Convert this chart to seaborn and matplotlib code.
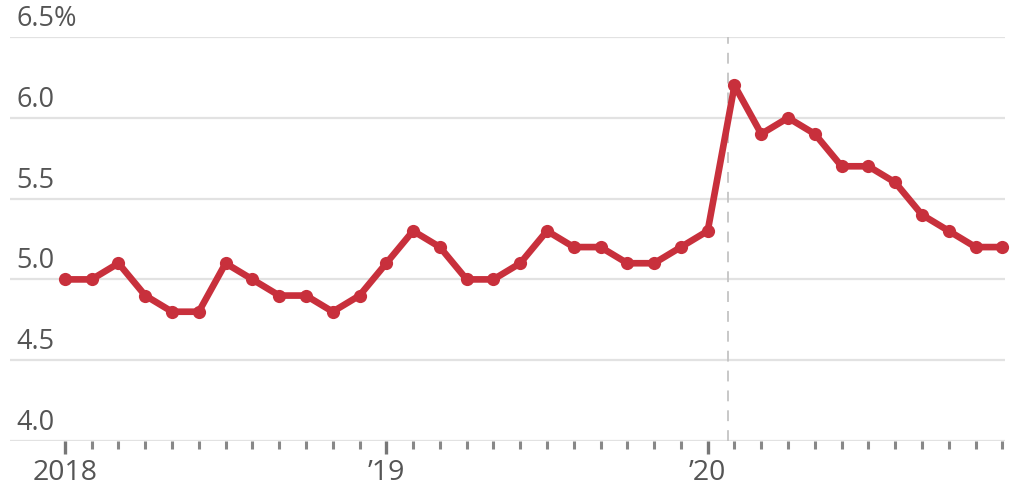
import numpy as np
import pandas as pd
import matplotlib
matplotlib.use("Agg")
import matplotlib.pyplot as plt
import seaborn as sns

# Monthly rate, Jan 2018 - Dec 2020
months = np.arange(36)
rate = [5.0, 5.0, 5.1, 4.9, 4.8, 4.8, 5.1, 5.0, 4.9, 4.9, 4.8, 4.9,
        5.1, 5.3, 5.2, 5.0, 5.0, 5.1, 5.3, 5.2, 5.2, 5.1, 5.1, 5.2,
        5.3, 6.2, 5.9, 6.0, 5.9, 5.7, 5.7, 5.6, 5.4, 5.3, 5.2, 5.2]
year_ticks = [0, 12, 24]
year_labels = ["2018", "\u201919", "\u201920"]
y_ticks = [4.0, 4.5, 5.0, 5.5, 6.0, 6.5]
y_labels = ["4.0", "4.5", "5.0", "5.5", "6.0", "6.5%"]
event_month = 24.75  # dashed marker line

df = pd.DataFrame({"month": months, "rate": rate})

sns.set_style("white")
plt.rcParams["font.family"] = ["Open Sans", "DejaVu Sans"]

fig = plt.figure(figsize=(10.14, 4.88), dpi=100)
ax = fig.add_axes([10 / 1014, 1 - 441 / 488, 995 / 1014, (441 - 37) / 488])

line_color = "#c8303c"
sns.lineplot(data=df, x="month", y="rate", ax=ax, color=line_color,
             linewidth=4.8, marker="o", markersize=9.5, markeredgewidth=0,
             clip_on=False)

ax.set_xlim(-2.05, 35.1)
ax.set_ylim(4.0, 6.5)

# horizontal grid lines with labels sitting just above them
for v, lbl in zip(y_ticks, y_labels):
    ax.axhline(v, color="#e2e2e2", linewidth=1.6, zorder=0)
    ax.text(6 / 995, v + 0.025, lbl, transform=ax.get_yaxis_transform(),
            ha="left", va="bottom", fontsize=19.5, color="#555555")

ax.axvline(event_month, color="#c4c4c4", linewidth=1.3,
           linestyle=(0, (6, 5)), zorder=0)

for s in ax.spines.values():
    s.set_visible(False)

ax.set_yticks([])
ax.set_xticks(year_ticks)
ax.set_xticklabels(year_labels, fontsize=20.5, color="#555555")
ax.set_xticks(months, minor=True)
ax.tick_params(axis="x", which="major", length=9, width=2.4, color="#777777",
               pad=4, bottom=True)
ax.tick_params(axis="x", which="minor", length=6, width=2.2, color="#888888",
               bottom=True)
ax.set_xlabel("")
ax.set_ylabel("")

fig.savefig("out.png", dpi=100)
